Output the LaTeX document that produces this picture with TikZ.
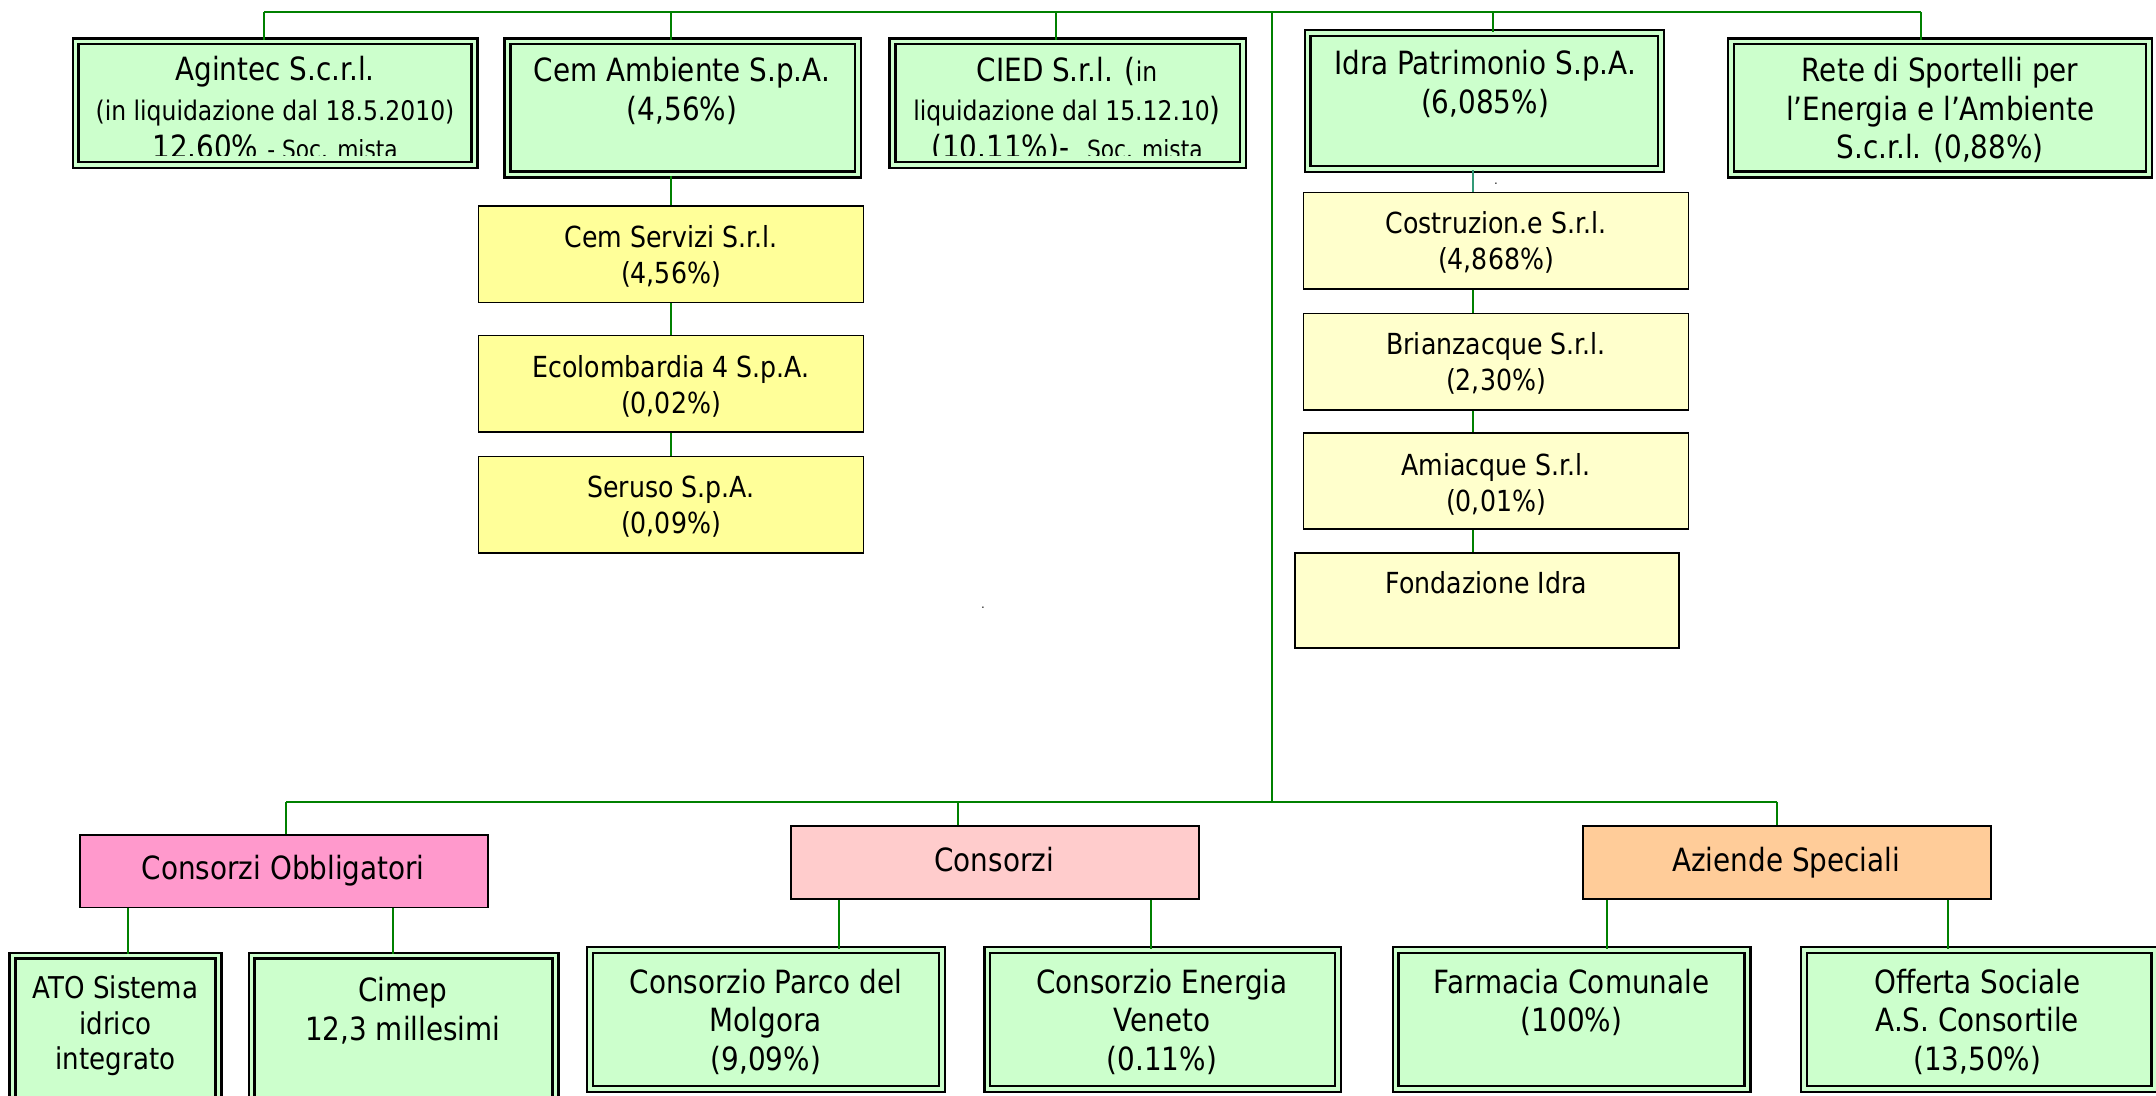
\documentclass[tikz,border=0pt]{standalone}
\usepackage{fontspec}
\setmainfont{DejaVu Sans}[FakeStretch=0.87]
\definecolor{gfill}{HTML}{CCFFCC}
\definecolor{yfill}{HTML}{FFFF99}
\definecolor{lyfill}{HTML}{FFFFCC}
\definecolor{pfill}{HTML}{FF99CC}
\definecolor{lpfill}{HTML}{FFCCCC}
\definecolor{ofill}{HTML}{FFCC99}
\definecolor{linegreen}{HTML}{008000}
\definecolor{lineteal}{HTML}{339977}
\newcommand\szA{\fontsize{32}{38.5}\selectfont}
\newcommand\szB{\fontsize{27}{32}\selectfont}
\newcommand\szC{\fontsize{25}{30}\selectfont}
\newcommand\szY{\fontsize{29}{36}\selectfont}
\newcommand\szT{\fontsize{30}{35.75}\selectfont}
% plain box: style, name, x1, y1, x2, y2 (picture units)
\newcommand\mkbox[6]{\node[#1, minimum width={(#5-#3)*1.375pt}, minimum height={(#6-#4)*1.375pt}] (#2) at ({(#3+#5)/2},{(#4+#6)/2}) {};}
% double-bordered box, outer edge given
\newcommand\mkgbox[5]{\node[gbox, minimum width={(#4-#2)*1.375pt-8.3pt}, minimum height={(#5-#3)*1.375pt-8.3pt}] (#1) at ({(#2+#4)/2},{(#3+#5)/2}) {};}
\begin{document}
\begin{tikzpicture}[x=1.375pt,y=-1.375pt,
  conn/.style={draw=linegreen, line width=2pt},
  gbox/.style={draw=black, fill=gfill, double=gfill, double distance=3.5pt, line width=2.4pt, inner sep=0pt},
  ybox/.style={draw=black, fill=yfill, line width=1.8pt, inner sep=0pt},
  lybox/.style={draw=black, fill=lyfill, line width=1.8pt, inner sep=0pt},
  pbox/.style={draw=black, fill=pfill, line width=1.8pt, inner sep=0pt},
  lpbox/.style={draw=black, fill=lpfill, line width=1.8pt, inner sep=0pt},
  obox/.style={draw=black, fill=ofill, line width=1.8pt, inner sep=0pt},
  txt/.style={align=center, anchor=base, inner sep=0pt, text=black},
  gtxt/.style={txt, font=\szA},
  ytxt/.style={txt, font=\szY},
  tinydot/.style={inner sep=0pt, font=\fontsize{12}{12}\selectfont}
]
\useasboundingbox[fill=white] (0,0) rectangle (1568,797);

% ---------- coordinates ----------
\coordinate (tb-agintec) at (192,9);
\coordinate (tb-cem) at (488,9);
\coordinate (tb-cied) at (768,9);
\coordinate (hub-top) at (925,9);
\coordinate (tb-idra) at (1086,9);
\coordinate (tb-rete) at (1397,9);
\coordinate (hub-bot) at (925,583);
\coordinate (bb-obl) at (208,583);
\coordinate (bb-cons) at (697,583);
\coordinate (bb-az) at (1292,583);
\coordinate (x-cem) at (488,0);
\coordinate (x-idra) at (1071,0);
\coordinate (x-ato) at (93,0);
\coordinate (x-cimep) at (286,0);
\coordinate (x-parco) at (610,0);
\coordinate (x-energia) at (837,0);
\coordinate (x-farm) at (1169,0);
\coordinate (x-off) at (1417,0);
\coordinate (clipy) at (0,113);

% ---------- top row ----------
\mkgbox{agintec}{52}{27}{348}{123}
\mkgbox{cemamb}{366}{27}{627}{130}
\mkgbox{cied}{646}{27}{907}{123}
\mkgbox{idra}{948}{21}{1211}{126}
\mkgbox{rete}{1256}{27}{1566}{130}

% ---------- Cem children ----------
\mkbox{ybox}{cemserv}{348}{150}{628}{220}
\mkbox{ybox}{ecolomb}{348}{244}{628}{314}
\mkbox{ybox}{seruso}{348}{332}{628}{402}

% ---------- Idra children ----------
\mkbox{lybox}{costr}{948}{140}{1228}{210}
\mkbox{lybox}{brianz}{948}{228}{1228}{298}
\mkbox{lybox}{amiacq}{948}{315}{1228}{385}
\mkbox{lybox}{fondaz}{942}{402}{1221}{471}

% ---------- category boxes ----------
\mkbox{pbox}{obblig}{58}{607}{355}{660}
\mkbox{lpbox}{consorzi}{575}{601}{872}{654}
\mkbox{obox}{aziende}{1151}{601}{1448}{654}

% ---------- bottom row ----------
\mkgbox{ato}{6}{692}{162}{803}
\mkgbox{cimep}{180}{692}{407}{803}
\mkgbox{parco}{426}{688}{688}{795}
\mkgbox{energia}{715}{688}{976}{795}
\mkgbox{farm}{1012}{688}{1274}{795}
\mkgbox{offerta}{1309}{688}{1570}{795}

% ---------- connectors ----------
\draw[conn] (tb-agintec) -- (tb-rete);
\draw[conn] (tb-agintec) -- (tb-agintec |- agintec.north);
\draw[conn] (tb-cem) -- (tb-cem |- cemamb.north);
\draw[conn] (tb-cied) -- (tb-cied |- cied.north);
\draw[conn] (tb-idra) -- (tb-idra |- idra.north);
\draw[conn] (tb-rete) -- (tb-rete |- rete.north);
\draw[conn] (hub-top) -- (hub-bot);
\draw[conn] (bb-obl) -- (bb-az);
\draw[conn] (bb-obl) -- (bb-obl |- obblig.north);
\draw[conn] (bb-cons) -- (bb-cons |- consorzi.north);
\draw[conn] (bb-az) -- (bb-az |- aziende.north);

\draw[conn] (cemamb.south -| x-cem) -- (cemserv.north -| x-cem);
\draw[conn] (cemserv.south -| x-cem) -- (ecolomb.north -| x-cem);
\draw[conn] (ecolomb.south -| x-cem) -- (seruso.north -| x-cem);

\draw[conn, draw=lineteal] (idra.south -| x-idra) -- (costr.north -| x-idra);
\draw[conn] (costr.south -| x-idra) -- (brianz.north -| x-idra);
\draw[conn] (brianz.south -| x-idra) -- (amiacq.north -| x-idra);
\draw[conn] (amiacq.south -| x-idra) -- (fondaz.north -| x-idra);

\draw[conn] (obblig.south -| x-ato) -- (ato.north -| x-ato);
\draw[conn] (obblig.south -| x-cimep) -- (cimep.north -| x-cimep);
\draw[conn] (consorzi.south -| x-parco) -- (parco.north -| x-parco);
\draw[conn] (consorzi.south -| x-energia) -- (energia.north -| x-energia);
\draw[conn] (aziende.south -| x-farm) -- (farm.north -| x-farm);
\draw[conn] (aziende.south -| x-off) -- (offerta.north -| x-off);

% ---------- texts (anchor = baseline of the last line) ----------
\begin{scope}
\clip (agintec.north west) rectangle (agintec.east |- clipy);
\node[gtxt] (agintec-l1) at (200,58.5) {Agintec S.c.r.l.};
\node[txt, font=\szB] (agintec-l2) at (200,87.3) {(in liquidazione dal 18.5.2010)};
\node[gtxt] (agintec-l3) at (200,115.5) {12.60\% {\szC - Soc. mista}};
\end{scope}
\node[gtxt] (cemamb-t) at (496,87.5) {Cem Ambiente S.p.A.\\(4,56\%)};
\begin{scope}
\clip (cied.north west) rectangle (cied.east |- clipy);
\node[gtxt] (cied-l1) at (776,59.5) {CIED S.r.l. ({\szB in}};
\node[gtxt] (cied-l2) at (776,87.3) {{\szB liquidazione dal 15.12.10})};
\node[gtxt] (cied-l3) at (776,115.5) {(10.11\%)-\ \ {\szC Soc. mista}};
\end{scope}
\node[gtxt] (idra-t) at (1080,82.5) {Idra Patrimonio S.p.A.\\(6,085\%)};
\node[gtxt] (rete-t) at (1411,115.5) {Rete di Sportelli per\\l’Energia e l’Ambiente\\S.c.r.l. (0,88\%)};

\node[ytxt] (cemserv-t) at (488,205.9) {Cem Servizi S.r.l.\\(4,56\%)};
\node[ytxt] (ecolomb-t) at (488,300.9) {Ecolombardia 4 S.p.A.\\(0,02\%)};
\node[ytxt] (seruso-t) at (488,387.9) {Seruso S.p.A.\\(0,09\%)};

\node[ytxt] (costr-t) at (1088,195.9) {Costruzion.e S.r.l.\\(4,868\%)};
\node[ytxt] (brianz-t) at (1088,283.9) {Brianzacque S.r.l.\\(2,30\%)};
\node[ytxt] (amiacq-t) at (1088,371.9) {Amiacque S.r.l.\\(0,01\%)};
\node[ytxt] (fondaz-t) at (1081,431.7) {Fondazione Idra};

\node[gtxt] (obblig-t) at (206,639.5) {Consorzi Obbligatori};
\node[gtxt] (consorzi-t) at (723,633.5) {Consorzi};
\node[gtxt] (aziende-t) at (1299,633.5) {Aziende Speciali};

\node[txt, font=\szT] (ato-t) at (84,778) {ATO Sistema\\idrico\\integrato};
\node[gtxt] (cimep-t) at (293,756.5) {Cimep\\12,3 millesimi};
\node[gtxt] (parco-t) at (557,778.5) {Consorzio Parco del\\Molgora\\(9,09\%)};
\node[gtxt] (energia-t) at (845,778.5) {Consorzio Energia\\Veneto\\(0.11\%)};
\node[gtxt] (farm-t) at (1143,750.5) {Farmacia Comunale\\(100\%)};
\node[gtxt] (offerta-t) at (1438,778.5) {Offerta Sociale\\A.S. Consortile\\(13,50\%)};

\node[tinydot] (dot1) at (1088,134) {.};
\node[tinydot] (dot2) at (715,442) {.};
\end{tikzpicture}
\end{document}
